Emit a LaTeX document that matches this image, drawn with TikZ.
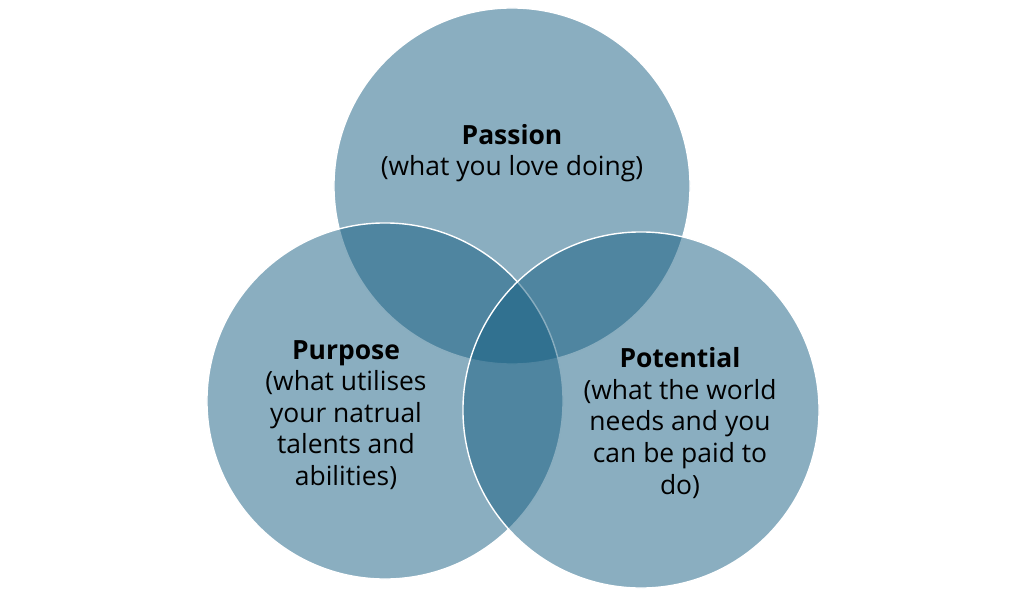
\documentclass[tikz,border=0pt]{standalone}
\usepackage{fontspec}
\setmainfont{Open Sans}
\definecolor{azul}{RGB}{21,93,129}
\begin{document}
\begin{tikzpicture}[x=0.025cm,y=-0.025cm,
  circulo/.style={circle, minimum size=8.9cm, inner sep=0pt, fill=azul, fill opacity=0.5, draw=white, draw opacity=1, line width=1pt},
  texto/.style={align=center, font=\fontsize{18.8}{22.5}\selectfont, text=black}]
\useasboundingbox (0,0) rectangle (1024,597);

% Los tres circulos, con transparencia para que se mezclen
\node[circulo] (pasion) at (512,186) {};
\node[circulo] (proposito) at (385,401) {};
\node[circulo] (potencial) at (641,410) {};

% Y los textos de cada uno
\node[texto] (tpasion) at (512,153) {\textbf{Passion}\\(what you love doing)};
\node[texto] (tproposito) at (346,415) {\textbf{Purpose}\\(what utilises\\your natrual\\talents and\\abilities)};
\node[texto] (tpotencial) at (680,423) {\textbf{Potential}\\(what the world\\needs and you\\can be paid to\\do)};
\end{tikzpicture}
\end{document}
